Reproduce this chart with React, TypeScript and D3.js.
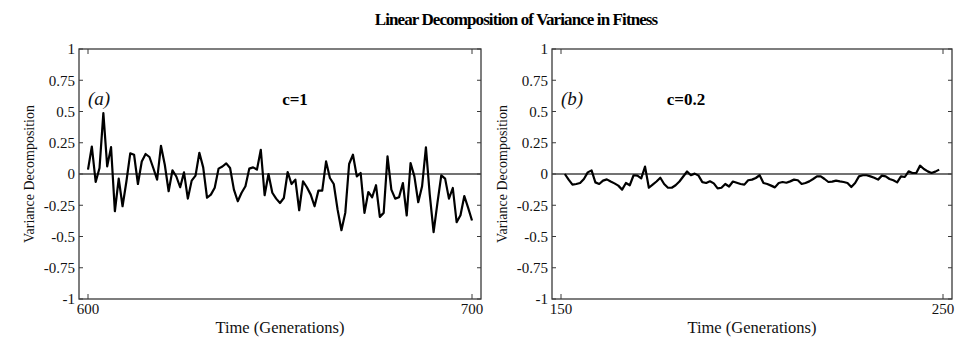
import React from "react";
import * as d3 from "d3";

const title = "Linear Decomposition of Variance in Fitness";
const yTicks = [1, 0.75, 0.5, 0.25, 0, -0.25, -0.5, -0.75, -1];
const yTickLabels = ["1", "0.75", "0.5", "0.25", "0", "-0.25", "-0.5", "-0.75", "-1"];

const leftStart = 600;
const leftValues = [
  0.035, 0.22, -0.064, 0.048, 0.487, 0.061, 0.215, -0.298, -0.037, -0.258,
  -0.06, 0.165, 0.154, -0.08, 0.1, 0.16, 0.136, 0.048, -0.045, 0.226,
  0.074, -0.138, 0.03, -0.02, -0.106, 0.013, -0.197, -0.053, -0.013, 0.17,
  0.053, -0.19, -0.165, -0.11, 0.043, 0.06, 0.085, 0.048, -0.125, -0.218,
  -0.15, -0.098, 0.043, 0.053, 0.035, 0.194, -0.17, 0, -0.15, -0.197,
  -0.232, -0.192, 0.016, -0.08, -0.045, -0.29, -0.058, -0.106, -0.165, -0.258,
  -0.133, -0.133, 0.101, -0.032, -0.08, -0.285, -0.45, -0.311, 0.08, 0.154,
  -0.019, 0.008, -0.311, -0.144, -0.186, -0.09, -0.343, -0.311, 0.141, -0.125,
  -0.197, -0.186, -0.072, -0.332, 0.088, -0.019, -0.226, -0.098, 0.213, -0.165,
  -0.465, -0.231, -0.011, -0.037, -0.197, -0.112, -0.386, -0.33, -0.176, -0.271,
  -0.372,
];

const rightStart = 151;
const rightValues = [
  0, -0.045, -0.085, -0.08, -0.072, -0.04, 0.013, 0.029, -0.067, -0.08,
  -0.053, -0.043, -0.06, -0.075, -0.093, -0.125, -0.072, -0.09, -0.01, -0.013,
  -0.035, 0.059, -0.11, -0.085, -0.06, -0.03, -0.08, -0.11, -0.11, -0.09,
  -0.06, -0.02, 0.02, -0.01, 0.003, -0.013, -0.065, -0.072, -0.058, -0.075,
  -0.115, -0.11, -0.08, -0.1, -0.06, -0.07, -0.08, -0.085, -0.05, -0.045,
  -0.032, -0.01, -0.072, -0.08, -0.093, -0.107, -0.072, -0.064, -0.07, -0.059,
  -0.045, -0.05, -0.08, -0.072, -0.059, -0.04, -0.019, -0.019, -0.04, -0.064,
  -0.061, -0.053, -0.059, -0.064, -0.072, -0.104, -0.072, -0.019, -0.01, -0.01,
  -0.019, -0.03, -0.045, -0.013, -0.019, -0.04, -0.05, -0.067, -0.019, -0.024,
  0.021, 0.008, 0.008, 0.067, 0.04, 0.021, 0.008, 0.019, 0.035,
];

type PanelProps = {
  x0: number;
  x1: number;
  domain: [number, number];
  start: number;
  values: number[];
  letter: string;
  cLabel: string;
  cX: number;
};

const FONT = "Liberation Serif, Times New Roman, serif";
const TOP = 49;
const BOTTOM = 299;

function Panel({ x0, x1, domain, start, values, letter, cLabel, cX }: PanelProps) {
  const x = d3.scaleLinear().domain(domain).range([x0 + 9, x1 - 9]);
  const y = d3.scaleLinear().domain([-1, 1]).range([BOTTOM, TOP]);
  const pts: [number, number][] = values.map((v, i) => [start + i, v]);
  const line = d3
    .line<[number, number]>()
    .x((d) => x(d[0]))
    .y((d) => y(d[1]));
  const frameColor = "#3a3a3a";
  return (
    <g>
      <rect x={x0} y={TOP} width={x1 - x0} height={BOTTOM - TOP} fill="none" stroke={frameColor} strokeWidth={1.3} />
      {yTicks.map((t, i) => (
        <g key={i}>
          <line x1={x0} x2={x0 + 4} y1={y(t)} y2={y(t)} stroke={frameColor} strokeWidth={1} />
          <line x1={x1} x2={x1 - 4} y1={y(t)} y2={y(t)} stroke={frameColor} strokeWidth={1} />
          <text x={x0 - 4} y={y(t)} dy="0.35em" textAnchor="end" fontSize={15} fontFamily={FONT} fill="#111">
            {yTickLabels[i]}
          </text>
        </g>
      ))}
      {domain.map((t, i) => (
        <g key={i}>
          <line x1={x(t)} x2={x(t)} y1={BOTTOM} y2={BOTTOM - 5} stroke={frameColor} strokeWidth={1} />
          <line x1={x(t)} x2={x(t)} y1={TOP} y2={TOP + 5} stroke={frameColor} strokeWidth={1} />
          <text x={x(t)} y={BOTTOM + 15} textAnchor="middle" fontSize={15} fontFamily={FONT} fill="#111">
            {t}
          </text>
        </g>
      ))}
      <line x1={x0} x2={x1} y1={y(0)} y2={y(0)} stroke="#444" strokeWidth={1.6} />
      <path d={line(pts) || ""} fill="none" stroke="#000" strokeWidth={2.2} strokeLinejoin="round" />
      <text x={x0 + 9} y={105} fontSize={19} fontStyle="italic" fontFamily={FONT} fill="#111">
        ({letter})
      </text>
      <text x={cX} y={105} fontSize={17} fontWeight="bold" textAnchor="middle" fontFamily={FONT} fill="#000">
        {cLabel}
      </text>
      <text x={(x0 + x1) / 2} y={BOTTOM + 34} textAnchor="middle" fontSize={16.5} fontFamily={FONT} fill="#111">
        Time (Generations)
      </text>
      <text
        transform={`translate(${x0 - 45},${(TOP + BOTTOM) / 2}) rotate(-90)`}
        textAnchor="middle"
        fontSize={14}
        fontFamily={FONT}
        fill="#111"
      >
        Variance Decomposition
      </text>
    </g>
  );
}

export default function App() {
  return (
    <svg width={956} height={345} style={{ position: "absolute", left: 0, top: 0, background: "#fff" }}>
      <rect width={956} height={345} fill="#fff" />
      <text x={516} y={25} textAnchor="middle" fontSize={17} letterSpacing={-0.9} fontWeight="bold" fontFamily={FONT} fill="#000">
        {title}
      </text>
      <Panel x0={79} x1={481} domain={[600, 700]} start={leftStart} values={leftValues} letter="a" cLabel="c=1" cX={295} />
      <Panel x0={552} x1={952} domain={[150, 250]} start={rightStart} values={rightValues} letter="b" cLabel="c=0.2" cX={686} />
    </svg>
  );
}
